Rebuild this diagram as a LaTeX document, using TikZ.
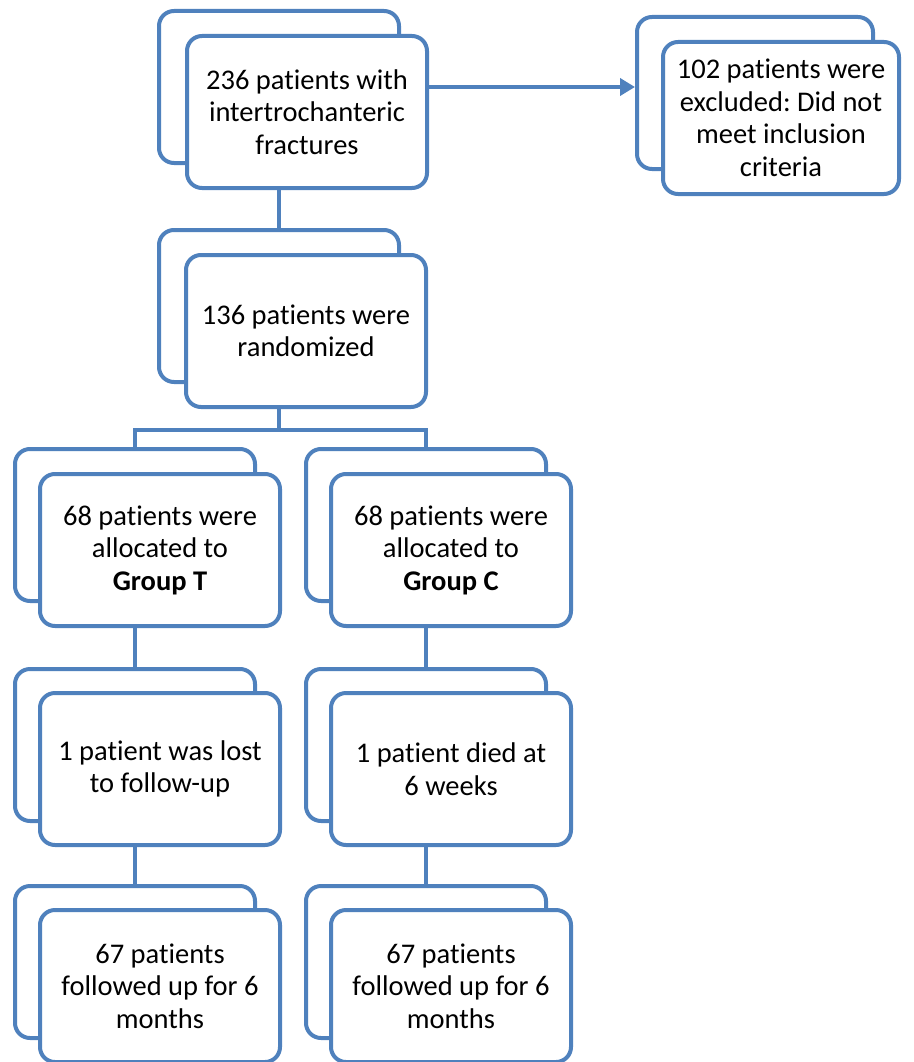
\documentclass[tikz,border=0pt]{standalone}
\usepackage{fontspec}
\setmainfont{Carlito}[Ligatures={NoCommon,NoContextual}, Contextuals=NoAlternate]
\frenchspacing
\usepackage{tikz}
\usetikzlibrary{arrows.meta, positioning}

\definecolor{boxblue}{HTML}{4F81BD}

\tikzset{
    backbox/.style={draw=boxblue, fill=white, line width=4pt, rounded corners=15pt,
        minimum width=240pt, minimum height=152pt},
    frontbox/.style={backbox, align=center, text=black,
        font=\fontsize{28.5}{32.5}\selectfont},
    link/.style={draw=boxblue, line width=4pt},
}

\begin{document}
\begin{tikzpicture}[x=1pt, y=-1pt]
    \useasboundingbox (0,0) rectangle (913,1062);

    % Enrolment
    \node[backbox] (allB) at (279,87) {};
    \node[frontbox] (allF) at ([shift={(28,25)}]allB) {236 patients with\\intertrochanteric\\fractures};

    \node[backbox, minimum width=236pt] (exclB) at (755,93) {};
    \node[frontbox, minimum width=236pt] (exclF) at ([shift={(26,25)}]exclB) {102 patients were\\excluded: Did not\\meet inclusion\\criteria};

    \node[backbox] (randB) at (279,306) {};
    \node[frontbox] (randF) at ([shift={(27,25)}]randB) {136 patients were\\randomized};

    % Allocation
    \node[backbox] (grpTB) at (135,525) {};
    \node[frontbox] (grpTF) at ([shift={(25,25)}]grpTB) {68 patients were\\allocated to\\\textbf{Group T}};

    \node[backbox] (grpCB) at (426,525) {};
    \node[frontbox] (grpCF) at ([shift={(25,25)}]grpCB) {68 patients were\\allocated to\\\textbf{Group C}};

    % Follow-up
    \node[backbox] (lostTB) at (135,745) {};
    \node[frontbox] (lostTF) at ([shift={(25,24)}]lostTB) {1 patient was lost\\to follow-up};

    \node[backbox] (lostCB) at (426,745) {};
    \node[frontbox] (lostCF) at ([shift={(25,24)}]lostCB) {1 patient died at\\6 weeks};

    % Analysis
    \node[backbox] (endTB) at (135,962) {};
    \node[frontbox] (endTF) at ([shift={(25,24)}]endTB) {67 patients\\followed up for 6\\months};

    \node[backbox] (endCB) at (426,962) {};
    \node[frontbox] (endCF) at ([shift={(25,24)}]endCB) {67 patients\\followed up for 6\\months};

    % Connectors
    \draw[link, -{Triangle[length=15pt, width=17pt]}] (allF.east |- allB.center) -- (exclB.west |- allB.center);
    \draw[link] (allF.south -| allB.south) -- (randB.north);
    \draw[link] (randF.south -| randB.south) -- ++(0,21) coordinate (split);
    \draw[link] (grpTB.north) |- (split) -| (grpCB.north);
    \draw[link] (grpTF.south -| grpTB.south) -- (lostTB.north);
    \draw[link] (grpCF.south -| grpCB.south) -- (lostCB.north);
    \draw[link] (lostTF.south -| lostTB.south) -- (endTB.north);
    \draw[link] (lostCF.south -| lostCB.south) -- (endCB.north);
\end{tikzpicture}
\end{document}
